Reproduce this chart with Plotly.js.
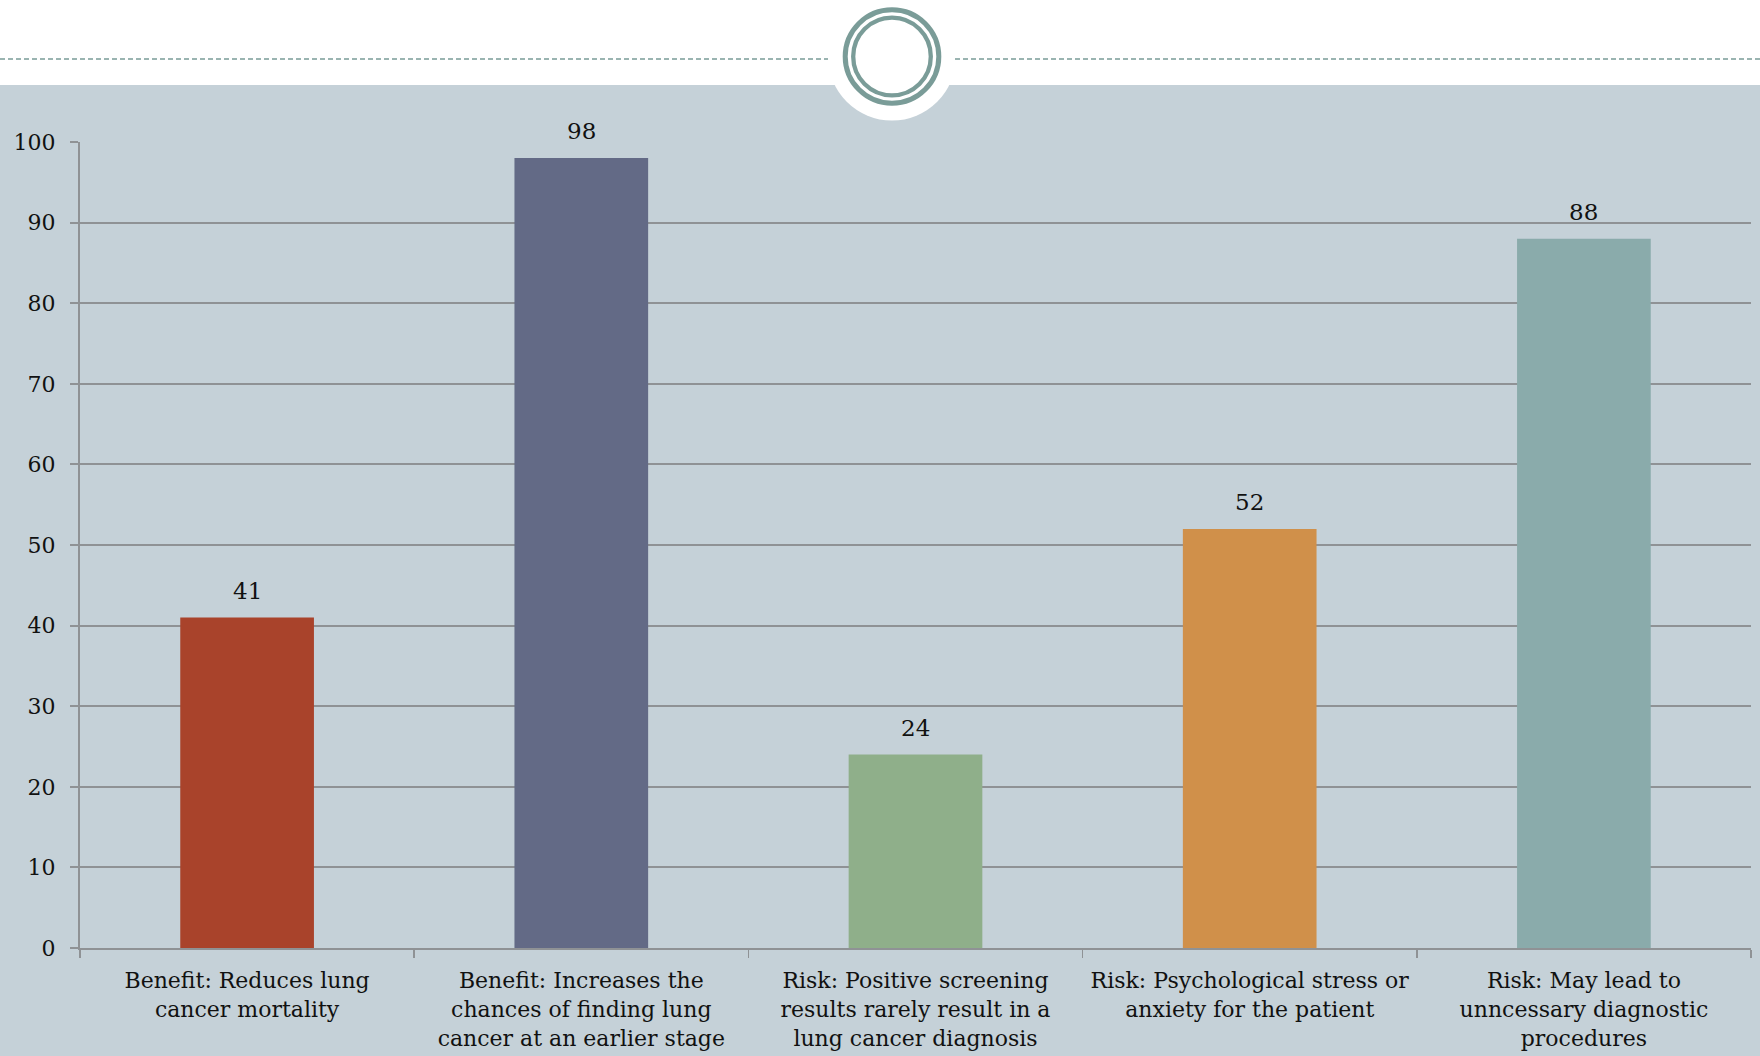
<!DOCTYPE html>
<html>
<head>
<meta charset="utf-8">
<script src="https://cdn.plot.ly/plotly-3.0.1.min.js"></script>
<style>
  html, body { margin: 0; padding: 0; background: #ffffff; }
  #chart { width: 1760px; height: 1056px; }
</style>
</head>
<body>
<div id="chart"></div>
<script>
// ---- Data ----
const categories = [
  "Benefit: Reduces lung cancer mortality",
  "Benefit: Increases the chances of finding lung cancer at an earlier stage",
  "Risk: Positive screening results rarely result in a lung cancer diagnosis",
  "Risk: Psychological stress or anxiety for the patient",
  "Risk: May lead to unncessary diagnostic procedures"
];
const tickLabels = [
  "Benefit: Reduces lung<br>cancer mortality",
  "Benefit: Increases the<br>chances of finding lung<br>cancer at an earlier stage",
  "Risk: Positive screening<br>results rarely result in a<br>lung cancer diagnosis",
  "Risk: Psychological stress or<br>anxiety for the patient",
  "Risk: May lead to<br>unncessary diagnostic<br>procedures"
];
const values = [41, 98, 24, 52, 88];
const barColors = ["#a9432b", "#636a86", "#8faf8a", "#d0904a", "#8aabab"];
const yTickVals = [0, 10, 20, 30, 40, 50, 60, 70, 80, 90, 100];

// ---- Layout geometry (pixels) ----
const W = 1760, H = 1056;
const L = 80, R = 9, T = 142, B = 108;
const plotW = W - L - R, plotH = H - T - B;
const px = x => (x - L) / plotW;          // pixel x -> paper x
const py = y => (H - B - y) / plotH;      // pixel y -> paper y

const bandColor = "#c5d1d8";
const ringColor = "#7a9c98";
const gridColor = "#8f9295";
const fontFam = "'DejaVu Serif', 'Liberation Serif', serif";

const cx = px(892), cy = py(56.5);

const shapes = [
  // grey band background
  {type: "rect", xref: "paper", yref: "paper", x0: px(0), x1: px(W), y0: py(H), y1: py(85),
   fillcolor: bandColor, line: {width: 0}, layer: "below"},
  // white bump circle
  {type: "circle", xref: "paper", yref: "paper", xsizemode: "pixel", ysizemode: "pixel",
   xanchor: cx, yanchor: cy, x0: -64, x1: 64, y0: -64, y1: 64,
   fillcolor: "#ffffff", line: {width: 0}, layer: "below"},
  // dashed line left
  {type: "line", xref: "paper", yref: "paper", x0: px(0), x1: px(828), y0: py(59), y1: py(59),
   line: {color: ringColor, width: 1.6, dash: "5px,3px"}, layer: "below"},
  // dashed line right
  {type: "line", xref: "paper", yref: "paper", x0: px(955), x1: px(W), y0: py(59), y1: py(59),
   line: {color: ringColor, width: 1.6, dash: "5px,3px"}, layer: "below"},
  // outer ring
  {type: "circle", xref: "paper", yref: "paper", xsizemode: "pixel", ysizemode: "pixel",
   xanchor: cx, yanchor: cy, x0: -46.8, x1: 46.8, y0: -46.8, y1: 46.8,
   line: {color: ringColor, width: 5}, layer: "below"},
  // inner ring
  {type: "circle", xref: "paper", yref: "paper", xsizemode: "pixel", ysizemode: "pixel",
   xanchor: cx, yanchor: cy, x0: -38.8, x1: 38.8, y0: -38.8, y1: 38.8,
   line: {color: ringColor, width: 4.3}, layer: "below"}
];

// value labels above bars
const annotations = categories.map((c, i) => ({
  x: c, y: values[i], xref: "x", yref: "y",
  text: String(values[i]),
  showarrow: false,
  xanchor: "center", yanchor: "middle",
  yshift: 27,
  font: {family: fontFam, size: 23, color: "#111111"}
}));

const trace = {
  type: "bar",
  x: categories,
  y: values,
  marker: {color: barColors, line: {width: 0}},
  cliponaxis: false,
  hoverinfo: "skip"
};

const layout = {
  width: W, height: H,
  margin: {l: L, r: R, t: T, b: B, pad: 0},
  paper_bgcolor: "#ffffff",
  plot_bgcolor: "rgba(0,0,0,0)",
  showlegend: false,
  bargap: 0.6,
  font: {family: fontFam, color: "#111111"},
  xaxis: {
    type: "category",
    tickmode: "array",
    tickvals: categories,
    ticktext: tickLabels,
    tickangle: 0,
    tickson: "boundaries",
    ticks: "outside",
    ticklen: 8,
    tickwidth: 1.5,
    tickcolor: gridColor,
    showline: true,
    linecolor: gridColor,
    linewidth: 2,
    showgrid: false,
    zeroline: false,
    tickfont: {family: fontFam, size: 22, color: "#111111"},
    ticklabelstandoff: 12,
    automargin: false,
    fixedrange: true
  },
  yaxis: {
    range: [0, 100],
    tickmode: "array",
    tickvals: yTickVals,
    ticks: "outside",
    ticklen: 8,
    tickwidth: 2,
    tickcolor: gridColor,
    showline: true,
    linecolor: gridColor,
    linewidth: 2,
    showgrid: true,
    gridcolor: gridColor,
    gridwidth: 2,
    zeroline: false,
    tickfont: {family: fontFam, size: 22, color: "#111111"},
    ticklabelstandoff: 10,
    automargin: false,
    fixedrange: true
  },
  annotations: annotations,
  shapes: shapes
};

Plotly.newPlot("chart", [trace], layout, {displayModeBar: false, staticPlot: true});
</script>
</body>
</html>
